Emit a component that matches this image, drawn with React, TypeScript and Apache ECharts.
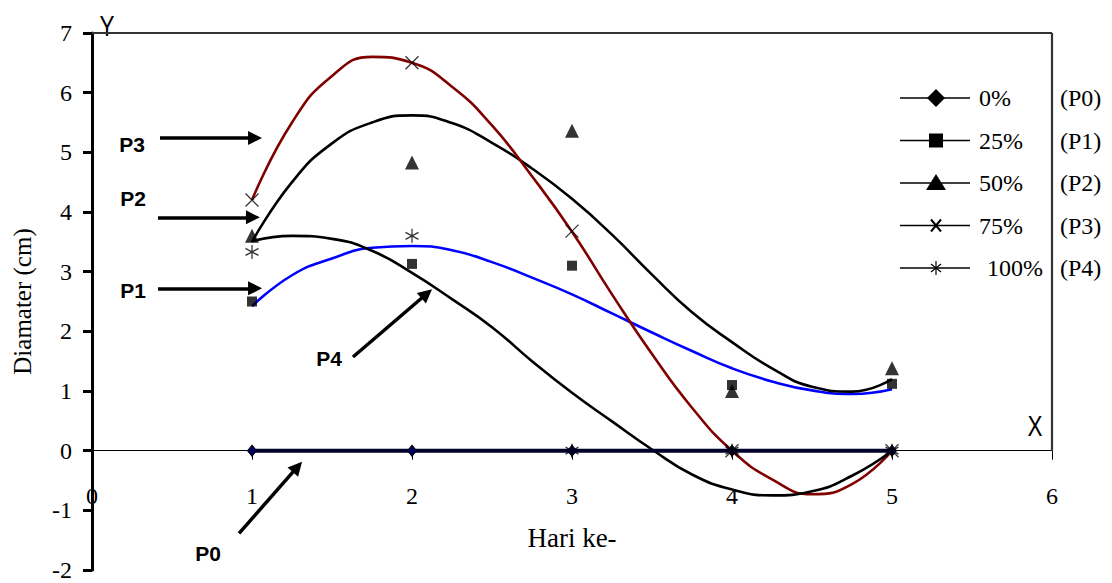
import React, { useEffect, useRef } from 'react';
import * as echarts from 'echarts';

// ---- data ----
const days = [1, 2, 3, 4, 5];
const p0Values = [0, 0, 0, 0, 0];
const p1Values = [2.5, 3.13, 3.1, 1.1, 1.12];
const p2Values = [3.6, 4.83, 5.36, 1.0, 1.38];
const p3Values = [4.2, 6.5, 3.68, 0, 0];
const p4Values = [3.33, 3.6, 0, 0, 0];

// trend lines
const trendX = [1, 1.25, 1.5, 1.75, 2, 2.25, 2.5, 2.75, 3, 3.25, 3.5, 3.75, 4, 4.25, 4.5, 4.75, 5];
const p1Trend = [2.42, 2.94, 3.22, 3.4, 3.43, 3.36, 3.16, 2.9, 2.62, 2.3, 1.98, 1.67, 1.38, 1.16, 1.01, 0.95, 1.03];
const p2Trend = [3.5, 4.5, 5.15, 5.5, 5.62, 5.49, 5.16, 4.73, 4.22, 3.62, 2.95, 2.32, 1.82, 1.38, 1.07, 0.99, 1.2];
const p3Trend = [4.2, 5.5, 6.28, 6.6, 6.5, 6.1, 5.45, 4.6, 3.67, 2.62, 1.62, 0.72, 0, -0.48, -0.73, -0.56, 0];
const p4Trend = [3.51, 3.6, 3.55, 3.35, 2.98, 2.54, 2.07, 1.5, 0.97, 0.49, 0.02, -0.4, -0.65, -0.75, -0.68, -0.42, 0];

const legendLabels = ['0%', '25%', '50%', '75%', '100%'];
const legendCodes = ['(P0)', '(P1)', '(P2)', '(P3)', '(P4)'];
const arrowNames = ['P0', 'P1', 'P2', 'P3', 'P4'];
const xTitle = 'Hari ke-';
const yTitle = 'Diamater (cm)';
const xLetter = 'X';
const yLetter = 'Y';

// arrow start/end points in data coordinates, one per label in arrowNames
const arrowStart = [[0.919, -1.386], [0.4125, 2.72], [0.4125, 3.91], [0.425, 5.24], [1.631, 1.57]];
const arrowEnd = [[1.284, -0.272], [1.019, 2.72], [1.006, 3.91], [1.019, 5.24], [2.092, 2.63]];

const SERIF = 'Liberation Serif';
const SANS = 'Liberation Sans';

const xSymbol = 'path://M0,0L10,10M10,0L0,10';
const starSymbol = 'path://M5,0L5,10M0.7,2.5L9.3,7.5M0.7,7.5L9.3,2.5';

const pairs = (xs: number[], ys: number[]) => xs.map((x, i) => [x, ys[i]]);

const Y_MIN = -2;
const Y_MAX = 7;
const GRID_TOP = 33;
const GRID_BOTTOM = 13;
const HEIGHT = 583;

export default function App() {
  const ref = useRef<HTMLDivElement>(null);

  useEffect(() => {
    document.body.style.margin = '0';
    const chart = echarts.init(ref.current!, undefined, { renderer: 'svg' });

    const plotH = HEIGHT - GRID_TOP - GRID_BOTTOM;
    // move the x axis up to the y = 0 level
    const zeroOffset = -plotH * (0 - Y_MIN) / (Y_MAX - Y_MIN);

    const graphic: any[] = [];
    // legend
    legendLabels.forEach((lab, i) => {
      const y = 98 + i * 42.5;
      graphic.push({ type: 'line', shape: { x1: 900, y1: y, x2: 970, y2: y }, style: { stroke: '#000', lineWidth: 1.5 } });
      const mx = 936;
      if (i === 0) {
        graphic.push({ type: 'polygon', shape: { points: [[mx, y - 9], [mx + 9, y], [mx, y + 9], [mx - 9, y]] }, style: { fill: '#000' } });
      } else if (i === 1) {
        graphic.push({ type: 'rect', shape: { x: mx - 7, y: y - 7, width: 14, height: 14 }, style: { fill: '#000' } });
      } else if (i === 2) {
        graphic.push({ type: 'polygon', shape: { points: [[mx, y - 9], [mx + 10, y + 7], [mx - 10, y + 7]] }, style: { fill: '#000' } });
      } else if (i === 3) {
        graphic.push({ type: 'line', shape: { x1: mx - 5, y1: y - 6, x2: mx + 5, y2: y + 6 }, style: { stroke: '#000', lineWidth: 2 } });
        graphic.push({ type: 'line', shape: { x1: mx + 5, y1: y - 6, x2: mx - 5, y2: y + 6 }, style: { stroke: '#000', lineWidth: 2 } });
      } else {
        graphic.push({ type: 'line', shape: { x1: mx, y1: y - 7, x2: mx, y2: y + 7 }, style: { stroke: '#000', lineWidth: 1.2 } });
        graphic.push({ type: 'line', shape: { x1: mx - 5, y1: y - 4, x2: mx + 5, y2: y + 4 }, style: { stroke: '#000', lineWidth: 1.2 } });
        graphic.push({ type: 'line', shape: { x1: mx + 5, y1: y - 4, x2: mx - 5, y2: y + 4 }, style: { stroke: '#000', lineWidth: 1.2 } });
      }
      graphic.push({
        type: 'text', x: i === 4 ? 987 : 979, y: y,
        style: { text: lab, font: `24px "${SERIF}"`, fill: '#000', textAlign: 'left', textVerticalAlign: 'middle', align: 'left', verticalAlign: 'middle' },
      });
      graphic.push({
        type: 'text', x: 1060, y: y,
        style: { text: legendCodes[i], font: `24px "${SERIF}"`, fill: '#000', textAlign: 'left', textVerticalAlign: 'middle', align: 'left', verticalAlign: 'middle' },
      });
    });

    // arrow labels
    const labelPos = [[208, 553], [133, 290], [133, 198], [132, 144], [329, 358]];
    arrowNames.forEach((n, i) => {
      graphic.push({
        type: 'text', x: labelPos[i][0], y: labelPos[i][1],
        style: { text: n, font: `bold 21px "${SANS}"`, fill: '#000', textAlign: 'center', textVerticalAlign: 'middle', align: 'center', verticalAlign: 'middle' },
      });
    });

    // axis letters
    graphic.push({
      type: 'text', x: 107, y: 26, scaleX: 0.75,
      style: { text: yLetter, font: `30px "${SANS}"`, fill: '#000', textAlign: 'center', textVerticalAlign: 'middle', align: 'center', verticalAlign: 'middle' },
    });
    graphic.push({
      type: 'text', x: 1035, y: 426, scaleX: 0.75,
      style: { text: xLetter, font: `30px "${SANS}"`, fill: '#000', textAlign: 'center', textVerticalAlign: 'middle', align: 'center', verticalAlign: 'middle' },
    });

    const trend = (ys: number[], color: string) => ({
      type: 'line',
      data: pairs(trendX, ys),
      smooth: true,
      showSymbol: false,
      symbol: 'none',
      silent: true,
      lineStyle: { color, width: 2.6 },
      z: 2,
    });

    const option: any = {
      animation: false,
      grid: { left: 92, right: 60, top: GRID_TOP, bottom: GRID_BOTTOM, containLabel: false, outerBoundsMode: 'none' },
      xAxis: {
        type: 'value', min: 0, max: 6, interval: 1,
        offset: zeroOffset,
        axisLine: { onZero: false, lineStyle: { color: '#000', width: 1 } },
        axisTick: { show: true, length: 9, lineStyle: { color: '#000', width: 1 } },
        axisLabel: { margin: 33, color: '#000', fontFamily: SERIF, fontSize: 24 },
        splitLine: { show: false },
        name: xTitle, nameLocation: 'middle', nameGap: 74,
        nameTextStyle: { color: '#000', fontFamily: SERIF, fontSize: 27 },
      },
      yAxis: {
        type: 'value', min: Y_MIN, max: Y_MAX, interval: 1,
        axisLine: { show: true, onZero: false, lineStyle: { color: '#000', width: 3 } },
        axisTick: { show: true, length: 9, lineStyle: { color: '#000', width: 3 } },
        axisLabel: { margin: 20, color: '#000', fontFamily: SERIF, fontSize: 24 },
        splitLine: { show: false },
        name: yTitle, nameLocation: 'middle', nameGap: 57, nameRotate: 90,
        nameTextStyle: { color: '#000', fontFamily: SERIF, fontSize: 25 },
      },
      graphic,
      series: [
        // frame (top and right) and arrows
        {
          type: 'line', data: [[0, 7]], symbol: 'none', showSymbol: false, clip: false, silent: true,
          lineStyle: { width: 0 },
          markLine: {
            silent: true, symbol: ['none', 'none'], label: { show: false },
            lineStyle: { color: '#333', width: 2.2, type: 'solid' },
            emphasis: { disabled: true },
            data: [
              [{ coord: [0, 7] }, { coord: [6, 7] }],
              [{ coord: [6, 0] }, { coord: [6, 7] }],
            ],
          },
        },
        {
          type: 'line', data: [[0, 0]], symbol: 'none', showSymbol: false, clip: false, silent: true,
          lineStyle: { width: 0 },
          markLine: {
            silent: true, symbol: ['none', 'triangle'], symbolSize: 14, label: { show: false },
            lineStyle: { color: '#000', width: 3.5, type: 'solid' },
            emphasis: { disabled: true },
            data: arrowStart.map((s, i) => [{ coord: s }, { coord: arrowEnd[i] }]),
          },
        },
        trend(p1Trend, '#0000ff'),
        trend(p2Trend, '#000000'),
        trend(p3Trend, '#800000'),
        trend(p4Trend, '#000000'),
        {
          name: legendLabels[0], type: 'line', data: pairs(days, p0Values),
          symbol: 'diamond', symbolSize: [9, 11], showAllSymbol: true,
          lineStyle: { color: '#00002a', width: 4 },
          itemStyle: { color: '#000060', borderColor: '#000', borderWidth: 1 },
          z: 3,
        },
        {
          name: legendLabels[1], type: 'scatter', data: pairs(days, p1Values),
          symbol: 'rect', symbolSize: [10, 10], itemStyle: { color: '#000' }, z: 4,
        },
        {
          name: legendLabels[2], type: 'scatter', data: pairs(days, p2Values),
          symbol: 'triangle', symbolSize: [14, 14], itemStyle: { color: '#000' }, z: 4,
        },
        {
          name: legendLabels[3], type: 'scatter', data: pairs(days, p3Values),
          symbol: xSymbol, symbolSize: [13, 13], itemStyle: { color: '#000', borderColor: '#000', borderWidth: 1.3 }, z: 4,
        },
        {
          name: legendLabels[4], type: 'scatter', data: pairs(days, p4Values),
          symbol: starSymbol, symbolSize: [13, 14], itemStyle: { color: '#000', borderColor: '#000', borderWidth: 1.3 }, z: 4,
        },
      ],
    };

    chart.setOption(option);
    return () => chart.dispose();
  }, []);

  return <div ref={ref} style={{ width: 1112, height: 583 }} />;
}
